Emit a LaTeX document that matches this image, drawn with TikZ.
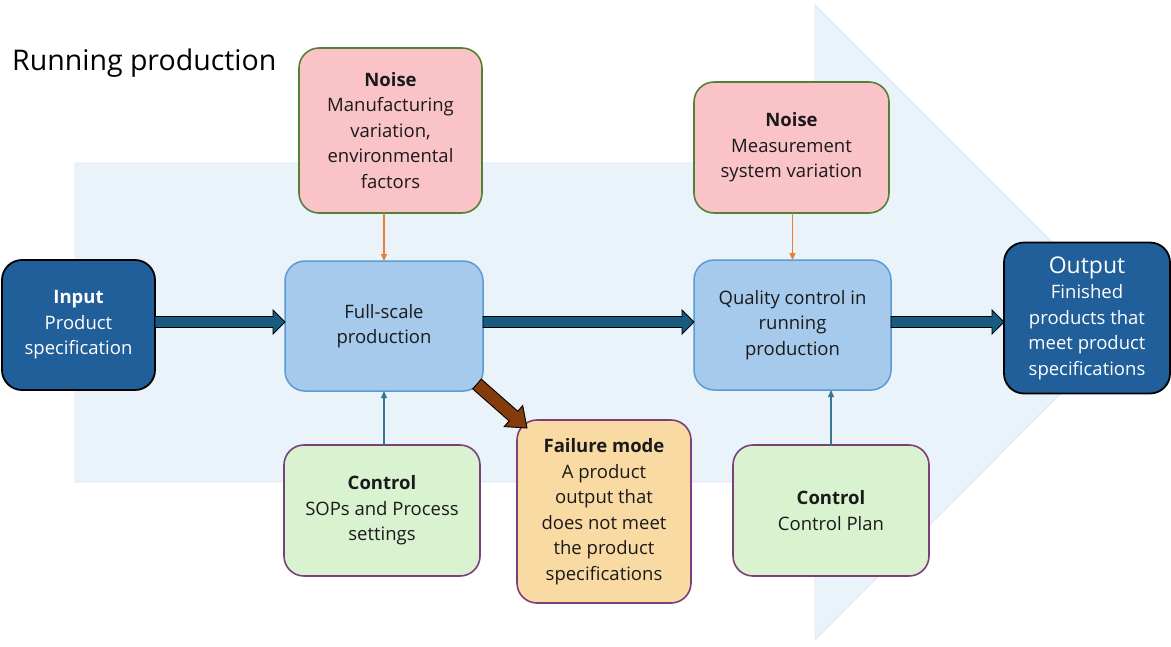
\documentclass[tikz,border=0pt]{standalone}
\usepackage{fontspec}
\setmainfont{Open Sans}
\usetikzlibrary{calc,arrows.meta}
\definecolor{bgarrow}{HTML}{EAF2FA}
\definecolor{bgarrowline}{HTML}{DCE8F5}
\definecolor{darkbox}{HTML}{215F9A}
\definecolor{lightbox}{HTML}{A6CAEC}
\definecolor{lightboxline}{HTML}{5B9BD5}
\definecolor{pinkbox}{HTML}{F9C3C8}
\definecolor{greenline}{HTML}{548235}
\definecolor{greenbox}{HTML}{D9F2D0}
\definecolor{purpleline}{HTML}{7B3F7B}
\definecolor{orangebox}{HTML}{F9DAA3}
\definecolor{fatteal}{HTML}{175C7F}
\definecolor{brownarrow}{HTML}{843C0C}
\definecolor{thinorange}{HTML}{ED7D31}
\definecolor{thinteal}{HTML}{3A7694}
\definecolor{textc}{HTML}{1A1A1A}
\newcommand\fatarrow[6]{%
 \path[draw=black, fill=#1, line width=0.9pt, line join=miter]
  let \p1=(#2), \p2=(#3), \n1={atan2(\y2-\y1,\x2-\x1)}, \n2={veclen(\x2-\x1,\y2-\y1)} in
  ($(\p1)+(\n1+90:#4pt)$) -- ($(\p1)+(\n1:{\n2*1pt-#6pt})+(\n1+90:#4pt)$)
  -- ($(\p1)+(\n1:{\n2*1pt-#6pt})+(\n1+90:#5pt)$) -- (\p2)
  -- ($(\p1)+(\n1:{\n2*1pt-#6pt})+(\n1-90:#5pt)$)
  -- ($(\p1)+(\n1:{\n2*1pt-#6pt})+(\n1-90:#4pt)$)
  -- ($(\p1)+(\n1-90:#4pt)$) -- cycle;}
\begin{document}
\begin{tikzpicture}[x=1pt,y=-1pt,
  box/.style={rounded corners=20pt, align=center, inner sep=0pt, outer sep=0pt,
    font=\fontsize{18.5}{25.5}\selectfont, text=textc},
  dark/.style={box, fill=darkbox, draw=black, line width=1.8pt, text=white},
  proc/.style={box, fill=lightbox, draw=lightboxline, line width=1.5pt},
  noise/.style={box, fill=pinkbox, draw=greenline, line width=1.6pt},
  ctrl/.style={box, fill=greenbox, draw=purpleline, line width=1.6pt},
  fail/.style={box, fill=orangebox, draw=purpleline, line width=1.6pt},
  thinarrow/.style={line width=1.2pt, -{Triangle[length=7pt,width=6pt]}}]
\useasboundingbox (0,0) rectangle (1171,646);
% background arrow
\fill[bgarrow, draw=bgarrowline, line width=0.8pt]
  (75,163) -- (815,163) -- (815,5) -- (1132,322) -- (815,640) -- (815,482) -- (75,482) -- cycle;
% title
\node[anchor=west, font=\fontsize{28.5}{33}\selectfont, text=black, inner sep=0pt] (title) at (12,63) {Running production};
% nodes
\node[dark, minimum width=153pt, minimum height=130pt] (in) at (78.5,325)
  {\textbf{Input}\\Product\\specification};
\node[proc, minimum width=198pt, minimum height=130pt] (fs) at (384,326)
  {Full-scale\\production};
\node[proc, minimum width=197pt, minimum height=130pt] (qc) at (792.5,325)
  {Quality control in\\running\\production};
\node[dark, minimum width=166pt, minimum height=151pt] (out) at (1087,318)
  {{\fontsize{23}{27}\selectfont Output}\\Finished\\products that\\meet product\\specifications};
\node[noise, minimum width=183pt, minimum height=165pt] (n1) at (390.5,130.5)
  {\textbf{Noise}\\Manufacturing\\variation,\\environmental\\factors};
\node[noise, minimum width=195pt, minimum height=131pt] (n2) at (791.5,147.5)
  {\textbf{Noise}\\Measurement\\system variation};
\node[ctrl, minimum width=196pt, minimum height=131pt] (c1) at (382,510.5)
  {\textbf{Control}\\SOPs and Process\\settings};
\node[fail, minimum width=174pt, minimum height=183pt] (fm) at (604,511.5)
  {\textbf{Failure mode}\\A product\\output that\\does not meet\\the product\\specifications};
\node[ctrl, minimum width=196pt, minimum height=131pt] (c2) at (831,510.5)
  {\textbf{Control}\\Control Plan};
% thin arrows
\draw[thinarrow, thinorange] (n1.south -| fs.north) -- (fs.north);
\draw[thinarrow, thinorange] (n2.south -| qc.north) -- (qc.north);
\draw[thinarrow, thinteal] (c1.north -| fs.south) -- (fs.south);
\draw[thinarrow, thinteal] (c2.north) -- (c2.north |- qc.south);
% fat arrows
\coordinate (a1s) at ($(in.east)+(0,-3)$);
\coordinate (a1e) at (a1s -| fs.west);
\coordinate (a2s) at ($(fs.east)+(0,-4)$);
\coordinate (a2e) at (a2s -| qc.west);
\coordinate (a3s) at ($(qc.east)+(0,-3)$);
\coordinate (a3e) at (a3s -| out.west);
\coordinate (a4s) at ($(fs.south east)+(-6,-7)$);
\coordinate (a4e) at ($(fm.north west)+(10,8)$);
\fatarrow{fatteal}{a1s}{a1e}{5.5}{12}{12}
\fatarrow{fatteal}{a2s}{a2e}{5.5}{12}{12}
\fatarrow{fatteal}{a3s}{a3e}{5.5}{12}{12}
\fatarrow{brownarrow}{a4s}{a4e}{6.5}{14}{18}
\end{tikzpicture}
\end{document}
